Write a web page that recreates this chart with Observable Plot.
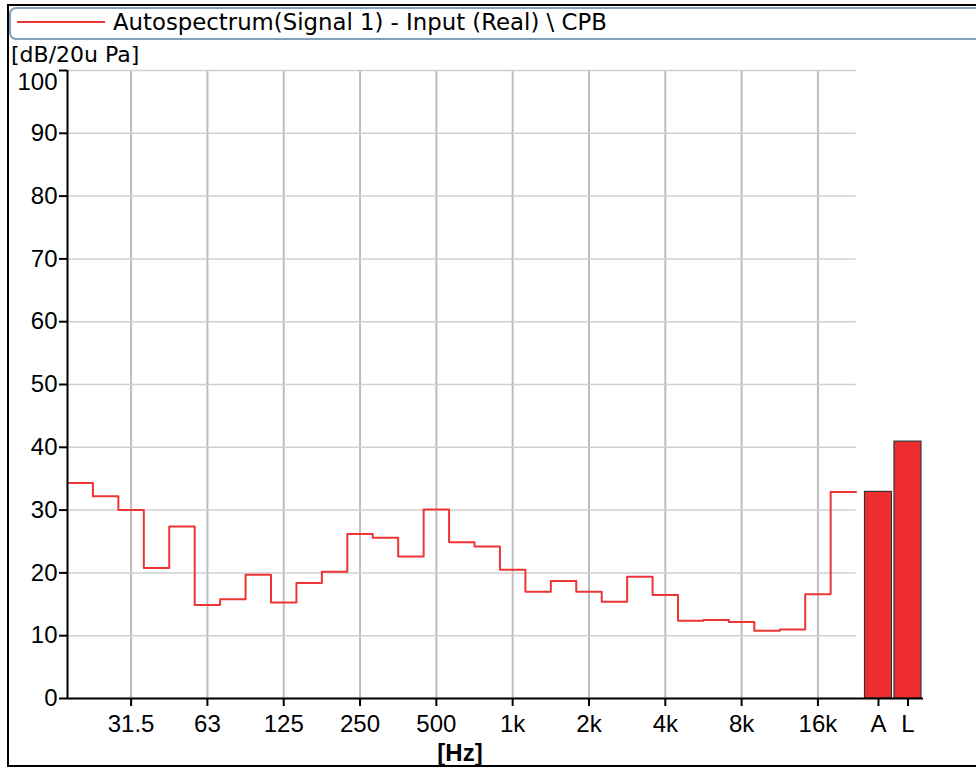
<!DOCTYPE html>
<html><head><meta charset="utf-8">
<script src="https://cdn.jsdelivr.net/npm/d3@7"></script>
<script src="https://cdn.jsdelivr.net/npm/@observablehq/plot@0.6"></script>
<style>body{margin:0;background:#fff}</style>
</head><body><div id="chart"></div>
<script>
// One-third octave band centre frequencies (labels)
const bands = ["20","25","31.5","40","50","63","80","100","125","160","200","250","315","400","500","630","800","1k","1.25k","1.6k","2k","2.5k","3.15k","4k","5k","6.3k","8k","10k","12.5k","16k","20k"];
// Band levels, dB re 20 uPa
const levels = [34.3, 32.2, 30.0, 20.8, 27.4, 14.9, 15.8, 19.7, 15.3, 18.4, 20.2, 26.2, 25.6, 22.6, 30.1, 24.9, 24.2, 20.5, 17.0, 18.7, 17.0, 15.4, 19.4, 16.5, 12.4, 12.5, 12.2, 10.8, 11.0, 16.6, 32.9];
// Overall totals
const totalLabels = ["A", "L"];
const totalLevels = [32.9, 40.9];
// Axis tick labels
const octaveTickLabels = ["31.5","63","125","250","500","1k","2k","4k","8k","16k"];
const yTicks = [0,10,20,30,40,50,60,70,80,90,100];

const n = bands.length;
const stepPts = levels.flatMap((v, i) => [{x: i - 0.5, y: v}, {x: i + 0.5, y: v}]);
const octIdx = octaveTickLabels.map(l => bands.indexOf(l));
const totals = totalLabels.map((k, j) => ({k, v: totalLevels[j], c: n + 0.38 + j * 1.16}));
const halfW = 0.53;
const tickPos = [...octIdx, ...totals.map(d => d.c)];
const tickText = [...octaveTickLabels, ...totalLabels];
const xMax = n + 2.15;
const yTop = yTicks[yTicks.length - 1];

const svg = Plot.plot({
  width: 976, height: 769,
  marginLeft: 67, marginRight: 53, marginTop: 70, marginBottom: 71,
  style: {fontFamily: "'Liberation Sans', Arial, sans-serif", fontSize: "24px", color: "#000", background: "#fff", overflow: "visible"},
  x: {type: "linear", domain: [-0.5, xMax]},
  y: {domain: [0, yTop]},
  marks: [
    Plot.ruleX(octIdx, {stroke: "#bdbdbd", strokeWidth: 2}),
    Plot.ruleY(yTicks, {x1: -0.5, x2: n - 0.5, stroke: "#d0d0d0", strokeWidth: 1.5}),
    Plot.line(stepPts, {x: "x", y: "y", stroke: "#ee3535", strokeWidth: 2}),
    Plot.rect(totals, {x1: d => d.c - halfW, x2: d => d.c + halfW, y1: 0, y2: "v", fill: "#ee2e2e", stroke: "#333", strokeWidth: 1.2}),
    Plot.ruleY([0], {x1: -0.5, x2: xMax, stroke: "#000", strokeWidth: 2}),
    Plot.ruleX([-0.5], {y1: 0, y2: yTop, stroke: "#000", strokeWidth: 2}),
    Plot.axisY({ticks: yTicks, tickFormat: d => d === yTop ? "" : String(d), tickSize: 8, tickPadding: 2, strokeWidth: 2, label: null}),
    Plot.text([yTop], {y: d => d, text: d => String(d), frameAnchor: "left", dx: -10, dy: 12, textAnchor: "end", fontSize: 24, fill: "#000"}),
    Plot.axisX({ticks: tickPos, tickFormat: d => tickText[tickPos.indexOf(d)], tickSize: 8, tickPadding: 8, strokeWidth: 2, label: null})
  ]
});

const s = d3.select(svg);
const vf = "'DejaVu Sans', Verdana, sans-serif";
// outer frame
s.append("path").attr("d", "M976,5H8V766H976").attr("fill", "none").attr("stroke", "#000").attr("stroke-width", 2);
// legend box
s.append("rect").attr("x", 10).attr("y", 8).attr("width", 975).attr("height", 31).attr("rx", 6)
  .attr("fill", "none").attr("stroke", "#7f9fbf").attr("stroke-width", 2);
s.append("line").attr("x1", 17).attr("x2", 105).attr("y1", 22).attr("y2", 22).attr("stroke", "#ee3535").attr("stroke-width", 2);
s.append("text").attr("x", 113).attr("y", 30).attr("font-family", vf).attr("font-size", 22.8).attr("text-anchor", "start").attr("fill", "#000").text("Autospectrum(Signal 1) - Input (Real) \\ CPB");
// axis units
s.append("text").attr("x", 11).attr("y", 62).attr("font-family", vf).attr("font-size", 22).attr("text-anchor", "start").attr("fill", "#000").text("[dB/20u Pa]");
s.append("text").attr("x", 460).attr("y", 761).attr("font-size", 24).attr("font-weight", "bold").attr("text-anchor", "middle").attr("fill", "#000").text("[Hz]");

document.getElementById("chart").appendChild(svg);
</script>
</body></html>
